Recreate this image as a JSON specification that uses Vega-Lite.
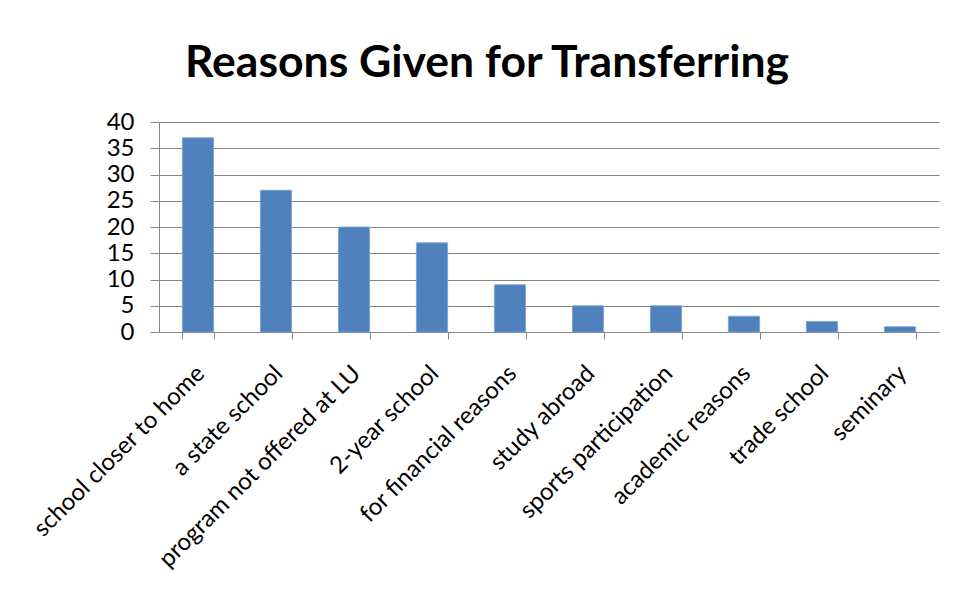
{
  "$schema": "https://vega.github.io/schema/vega-lite/v6.json",
  "width": 780,
  "height": 210,
  "autosize": {"type": "none"},
  "padding": {"left": 159, "top": 122, "right": 19, "bottom": 274},
  "background": "white",
  "title": {
    "text": "Reasons Given for Transferring",
    "font": "Lato",
    "fontSize": 44.5,
    "fontWeight": "bold",
    "color": "#000000",
    "anchor": "middle",
    "dx": -62,
    "offset": 24
  },
  "data": {
    "values": [
      {"reason": "school closer to home", "count": 37},
      {"reason": "a state school", "count": 27},
      {"reason": "program not offered  at LU", "count": 20},
      {"reason": "2-year school", "count": 17},
      {"reason": "for financial reasons", "count": 9},
      {"reason": "study abroad", "count": 5},
      {"reason": "sports participation", "count": 5},
      {"reason": "academic reasons", "count": 3},
      {"reason": "trade school", "count": 2},
      {"reason": "seminary", "count": 1}
    ]
  },
  "mark": {"type": "bar", "color": "#4F81BD", "stroke": "#7DA2D0", "strokeWidth": 0.8},
  "encoding": {
    "x": {
      "field": "reason",
      "type": "nominal",
      "sort": null,
      "scale": {"paddingInner": 0.6, "paddingOuter": 0.3},
      "axis": {
        "title": null,
        "labelAngle": -45,
        "labelFont": "Lato",
        "labelFontSize": 24,
        "labelColor": "#000000",
        "labelPadding": 22,
        "labelOffset": -6,
        "tickBand": "extent",
        "tickSize": 7,
        "tickColor": "#868686",
        "domainColor": "#868686",
        "labelLimit": 400
      }
    },
    "y": {
      "field": "count",
      "type": "quantitative",
      "scale": {"domain": [0, 40], "nice": false},
      "axis": {
        "title": null,
        "values": [0, 5, 10, 15, 20, 25, 30, 35, 40],
        "labelFont": "Lato",
        "labelFontSize": 24,
        "labelColor": "#000000",
        "labelPadding": 16,
        "tickSize": 9,
        "tickColor": "#868686",
        "domainColor": "#868686",
        "grid": true,
        "gridColor": "#868686",
        "gridWidth": 1
      }
    }
  },
  "config": {
    "view": {"stroke": null},
    "axis": {"domainWidth": 1, "tickWidth": 1}
  }
}
